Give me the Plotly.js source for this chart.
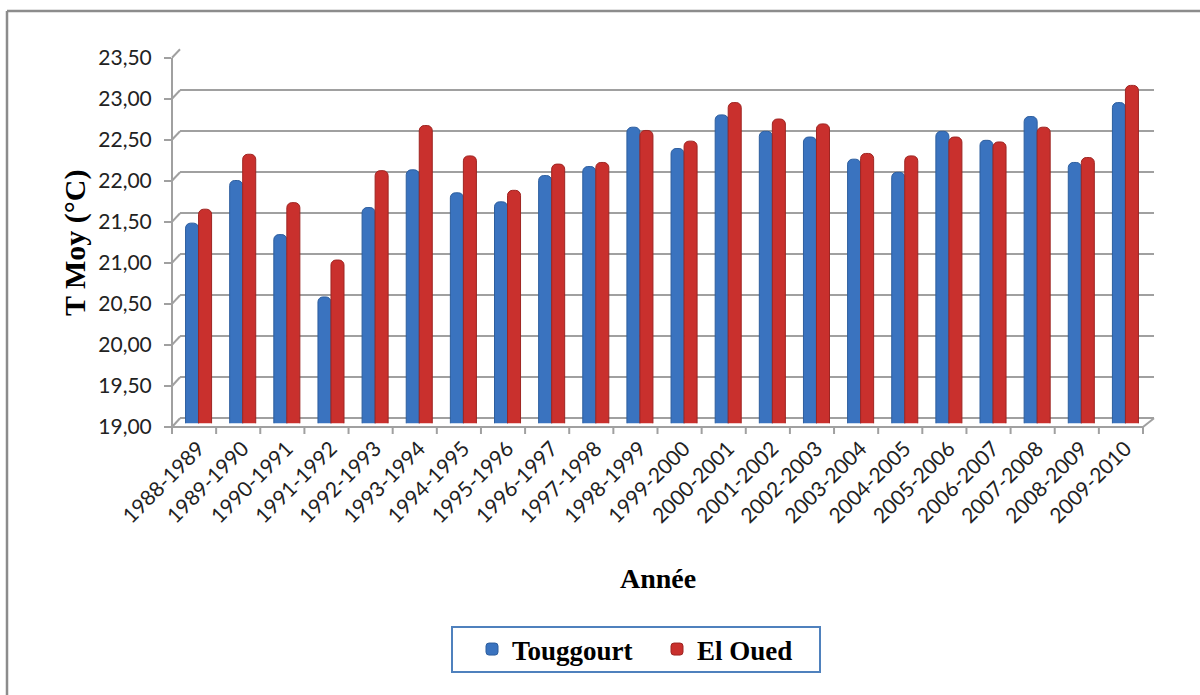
<!DOCTYPE html>
<html>
<head>
<meta charset="utf-8">
<script src="https://cdn.plot.ly/plotly-3.0.1.min.js"></script>
<style>
  html, body { margin: 0; padding: 0; background: #ffffff; }
  #chart { width: 1200px; height: 695px; }
</style>
</head>
<body>
<div id="chart"></div>
<script>
// Mean annual temperature (°C) per hydrological year
const years = [
  '1988-1989', '1989-1990', '1990-1991', '1991-1992', '1992-1993', '1993-1994',
  '1994-1995', '1995-1996', '1996-1997', '1997-1998', '1998-1999', '1999-2000',
  '2000-2001', '2001-2002', '2002-2003', '2003-2004', '2004-2005', '2005-2006',
  '2006-2007', '2007-2008', '2008-2009', '2009-2010'
];
const touggourt = [
  21.38, 21.90, 21.24, 20.48, 21.57, 22.03, 21.75, 21.64, 21.96, 22.07, 22.55,
  22.29, 22.70, 22.50, 22.43, 22.16, 22.00, 22.50, 22.39, 22.68, 22.12, 22.85
];
const elOued = [
  21.55, 22.22, 21.63, 20.93, 22.02, 22.57, 22.20, 21.78, 22.10, 22.12, 22.51,
  22.38, 22.85, 22.65, 22.59, 22.23, 22.20, 22.43, 22.37, 22.55, 22.18, 23.06
];
const yTicks = [19, 19.5, 20, 20.5, 21, 21.5, 22, 22.5, 23, 23.5];

// Figure geometry (pixels) for the pseudo-3D frame: back wall and front axes
const W = 1200, H = 695;
const fx = x => x / W;
const fy = y => 1 - y / H;
const yMin = 19, yMax = 23.5;
const backLeft = 180, backRight = 1154, backBottom = 418.3, backTop = 49.3;
const frontLeft = 172, frontRight = 1143, frontBottom = 427, frontTop = 57.7;
const floorRange = 18.94;          // bars run down to the floor edge
const backScale = (backBottom - backTop) / (yMax - yMin);
const frontScale = (frontBottom - frontTop) / (yMax - yMin);
const yBack = v => backBottom - (v - yMin) * backScale;
const yFront = v => frontBottom - (v - yMin) * frontScale;
const plotBottomPx = backBottom + (yMin - floorRange) * backScale;

// Category positions for the bars (mid-depth of the floor)
const catW = (frontRight - frontLeft) / years.length;
const firstCenter = frontLeft + catW / 2 + 4.5;
const xr0 = (backLeft - firstCenter) / catW;
const xr1 = (backRight - firstCenter) / catW;

const axisGrey = '#a0a0a0';
const shapes = [];
const line = (x0, y0, x1, y1, color, width) => shapes.push({
  type: 'line', xref: 'paper', yref: 'paper',
  x0: fx(x0), y0: fy(y0), x1: fx(x1), y1: fy(y1),
  line: { color: color, width: width }
});

// outer frame
line(7, 11, 7, 700, '#8c8c8c', 2.5);
line(7, 11, 1205, 11, '#8c8c8c', 2.5);
// connectors from the front axis ticks to the back wall grid
yTicks.forEach(v => line(frontLeft, yFront(v), backLeft, yBack(v), axisGrey, 2));
// front floor edge with category ticks
line(frontLeft, frontBottom, frontRight, frontBottom, axisGrey, 2);
for (let k = 0; k <= years.length; k++) {
  const x = frontLeft + k * catW;
  line(x, frontBottom, x, frontBottom + 7, axisGrey, 2);
}
line(frontRight, frontBottom, backRight, backBottom, axisGrey, 2);
// legend frame
shapes.push({
  type: 'rect', xref: 'paper', yref: 'paper',
  x0: fx(452), y0: fy(672), x1: fx(820), y1: fy(627),
  line: { color: '#4f81bd', width: 2 }, fillcolor: 'rgba(0,0,0,0)'
});

const data = [
  {
    type: 'bar', name: 'Touggourt', x: years, y: touggourt,
    marker: { color: '#3a73bf', line: { color: '#2d5e9e', width: 1 } },
    hoverinfo: 'x+y+name'
  },
  {
    type: 'bar', name: 'El Oued', x: years, y: elOued,
    marker: { color: '#c9302d', line: { color: '#9e2522', width: 1 } },
    hoverinfo: 'x+y+name'
  },
  // carries the front value axis
  {
    type: 'scatter', x: [], y: [], xaxis: 'x', yaxis: 'y2',
    showlegend: false, hoverinfo: 'skip'
  }
];

const layout = {
  width: W, height: H,
  margin: { l: 0, r: 0, t: 0, b: 0, pad: 0 },
  paper_bgcolor: '#ffffff', plot_bgcolor: 'rgba(0,0,0,0)',
  separators: ', ',
  barmode: 'group', bargap: 0.41, bargroupgap: 0, barcornerradius: 5,
  xaxis: {
    type: 'category',
    domain: [fx(backLeft), fx(backRight)],
    range: [xr0, xr1],
    showgrid: false, showline: false, zeroline: false, ticks: '',
    tickangle: -45, ticklabelstandoff: 8,
    tickfont: { family: 'Lato, sans-serif', size: 21, color: '#222' }
  },
  yaxis: {
    domain: [fy(plotBottomPx), fy(backTop)],
    range: [floorRange, yMax],
    tickmode: 'array', tickvals: yTicks,
    showgrid: true, gridcolor: axisGrey, gridwidth: 2,
    showline: false, zeroline: false, ticks: '', showticklabels: false
  },
  yaxis2: {
    domain: [fy(frontBottom), fy(frontTop)],
    range: [yMin, yMax],
    anchor: 'free', position: fx(frontLeft), side: 'left',
    tickmode: 'array', tickvals: yTicks, tickformat: '.2f',
    showgrid: false, zeroline: false,
    showline: true, linecolor: axisGrey, linewidth: 2,
    ticks: 'outside', ticklen: 7, tickwidth: 2, tickcolor: axisGrey,
    ticklabelstandoff: 8,
    tickfont: { family: 'Lato, sans-serif', size: 21, color: '#222' }
  },
  shapes: shapes,
  annotations: [
    {
      text: 'T Moy (°C)', xref: 'paper', yref: 'paper',
      x: fx(75), y: fy(243), textangle: -90, showarrow: false,
      xanchor: 'center', yanchor: 'middle',
      font: { family: 'Liberation Serif, Times New Roman, serif', size: 30, weight: 'bold', color: '#000' }
    },
    {
      text: 'Année', xref: 'paper', yref: 'paper',
      x: fx(658), y: fy(578), showarrow: false,
      xanchor: 'center', yanchor: 'middle',
      font: { family: 'Liberation Serif, Times New Roman, serif', size: 28, weight: 'bold', color: '#000' }
    }
  ],
  showlegend: true,
  legend: {
    orientation: 'h', x: fx(472), y: fy(649.5), xanchor: 'left', yanchor: 'middle',
    borderwidth: 0, bgcolor: 'rgba(0,0,0,0)', entrywidth: 140, itemwidth: 30,
    font: { family: 'Liberation Serif, Times New Roman, serif', size: 27, weight: 'bold', color: '#000' }
  }
};

Plotly.newPlot('chart', data, layout, { displayModeBar: false, staticPlot: true });
</script>
</body>
</html>
